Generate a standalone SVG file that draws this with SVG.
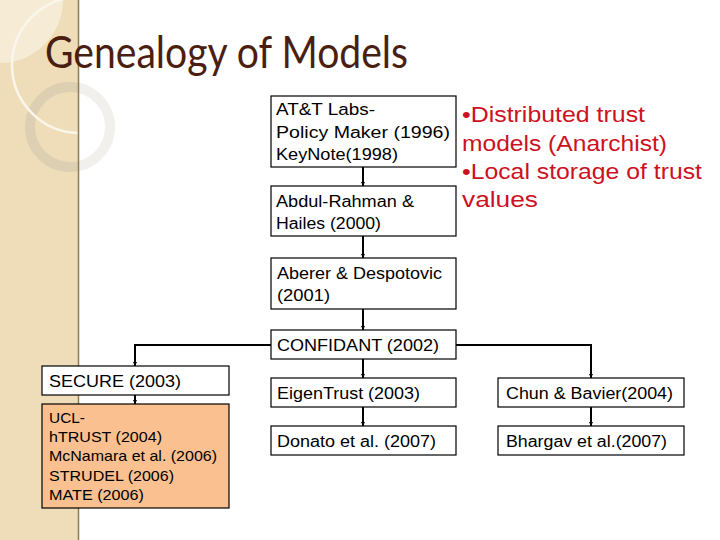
<svg xmlns="http://www.w3.org/2000/svg" width="720" height="540" viewBox="0 0 720 540">
<style>
.box{fill:#fff;stroke:#000;stroke-width:1.2}
.orange{fill:#FAC090;stroke:#000;stroke-width:1.2}
.t{font-family:"Liberation Sans",Arial,sans-serif;font-size:17.3px;fill:#000}
.s{font-family:"Liberation Sans",Arial,sans-serif;font-size:14.5px;fill:#000}
.red{font-family:"Liberation Sans",Arial,sans-serif;font-size:22.5px;fill:#CC1122}
.title{font-family:"Lato","Open Sans",sans-serif;font-size:44px;fill:#4A1E10}
.conn{fill:none;stroke:#000;stroke-width:2;marker-end:url(#arr)}
</style>
<defs>
<marker id="arr" viewBox="0 0 10 10" refX="10" refY="5" markerWidth="4" markerHeight="4" orient="auto" markerUnits="userSpaceOnUse">
<path d="M0,0 L10,5 L0,10 z" fill="#000"/>
</marker>
<clipPath id="side"><rect x="0" y="0" width="78" height="540"/></clipPath>
</defs>
<rect width="720" height="540" fill="#fff"/>
<g id="sidebar">
<circle cx="70" cy="127" r="40" fill="none" stroke="#F2F0EC" stroke-width="10"/>
<rect x="0" y="0" width="78" height="540" fill="#EEDDB8"/>
<g clip-path="url(#side)">
<circle cx="0" cy="0" r="63" fill="#F6EBD4"/>
<circle cx="70" cy="127" r="40" fill="none" stroke="#DCCFB2" stroke-width="10"/>
<circle cx="80" cy="65" r="68" fill="none" stroke="#FBF6EC" stroke-width="2.5"/>
</g>
<line x1="78.5" y1="0" x2="78.5" y2="540" stroke="#8C7E55" stroke-width="1.5"/>
</g>
<text class="title" x="45" y="68" textLength="363" lengthAdjust="spacingAndGlyphs">Genealogy of Models</text>
<g id="connectors">
<path class="conn" d="M363,167 V186"/>
<path class="conn" d="M363,236 V258"/>
<path class="conn" d="M363,309 V330"/>
<path class="conn" d="M271,345 H135 V366"/>
<path class="conn" d="M456,345 H591 V378"/>
<path class="conn" d="M363,359 V378"/>
<path class="conn" d="M363,407 V426"/>
<path class="conn" d="M591,407 V426"/>
<path class="conn" d="M135,395 V404"/>
</g>
<g id="att">
<rect class="box" x="271" y="96" width="185" height="71"/>
<text class="t" x="276" y="115" textLength="99" lengthAdjust="spacingAndGlyphs">AT&amp;T Labs-</text>
<text class="t" x="276" y="138" textLength="174" lengthAdjust="spacingAndGlyphs">Policy Maker (1996)</text>
<text class="t" x="276" y="160" textLength="122" lengthAdjust="spacingAndGlyphs">KeyNote(1998)</text>
</g>
<g id="abdul">
<rect class="box" x="271" y="186" width="185" height="50"/>
<text class="t" x="276" y="207" textLength="138" lengthAdjust="spacingAndGlyphs">Abdul-Rahman &amp;</text>
<text class="t" x="276" y="229" textLength="105" lengthAdjust="spacingAndGlyphs">Hailes (2000)</text>
</g>
<g id="aberer">
<rect class="box" x="271" y="258" width="185" height="51"/>
<text class="t" x="277" y="279" textLength="165" lengthAdjust="spacingAndGlyphs">Aberer &amp; Despotovic</text>
<text class="t" x="277" y="301" textLength="53" lengthAdjust="spacingAndGlyphs">(2001)</text>
</g>
<g id="confidant">
<rect class="box" x="271" y="330" width="185" height="29"/>
<text class="t" x="277" y="351" textLength="162" lengthAdjust="spacingAndGlyphs">CONFIDANT (2002)</text>
</g>
<g id="secure">
<rect class="box" x="42" y="366" width="187" height="29"/>
<text class="t" x="49" y="387" textLength="132" lengthAdjust="spacingAndGlyphs">SECURE (2003)</text>
</g>
<g id="ucl">
<rect class="orange" x="42" y="404" width="187" height="104"/>
<text class="s" x="49" y="423" textLength="36" lengthAdjust="spacingAndGlyphs">UCL-</text>
<text class="s" x="49" y="442" textLength="113" lengthAdjust="spacingAndGlyphs">hTRUST (2004)</text>
<text class="s" x="49" y="461" textLength="168" lengthAdjust="spacingAndGlyphs">McNamara et al. (2006)</text>
<text class="s" x="49" y="481" textLength="125" lengthAdjust="spacingAndGlyphs">STRUDEL (2006)</text>
<text class="s" x="49" y="500" textLength="95" lengthAdjust="spacingAndGlyphs">MATE (2006)</text>
</g>
<g id="eigentrust">
<rect class="box" x="271" y="378" width="185" height="29"/>
<text class="t" x="277" y="399" textLength="143" lengthAdjust="spacingAndGlyphs">EigenTrust (2003)</text>
</g>
<g id="donato">
<rect class="box" x="271" y="426" width="185" height="29"/>
<text class="t" x="277" y="447" textLength="159" lengthAdjust="spacingAndGlyphs">Donato et al. (2007)</text>
</g>
<g id="chun">
<rect class="box" x="498" y="378" width="186" height="29"/>
<text class="t" x="506" y="399" textLength="167" lengthAdjust="spacingAndGlyphs">Chun &amp; Bavier(2004)</text>
</g>
<g id="bhargav">
<rect class="box" x="498" y="426" width="186" height="29"/>
<text class="t" x="506" y="447" textLength="161" lengthAdjust="spacingAndGlyphs">Bhargav et al.(2007)</text>
</g>
<g id="notes">
<text class="red" x="462" y="122" textLength="183" lengthAdjust="spacingAndGlyphs">•Distributed trust</text>
<text class="red" x="462" y="151" textLength="205" lengthAdjust="spacingAndGlyphs">models (Anarchist)</text>
<text class="red" x="462" y="179" textLength="240" lengthAdjust="spacingAndGlyphs">•Local storage of trust</text>
<text class="red" x="462" y="207" textLength="76" lengthAdjust="spacingAndGlyphs">values</text>
</g>
</svg>
